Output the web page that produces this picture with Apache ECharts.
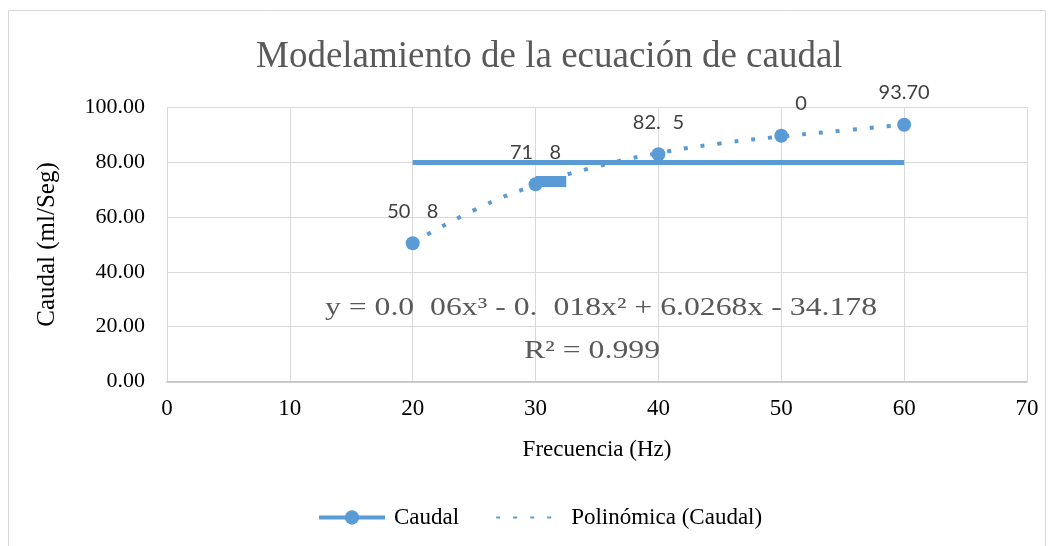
<!DOCTYPE html>
<html>
<head>
<meta charset="utf-8">
<script src="https://cdn.jsdelivr.net/npm/echarts@6/dist/echarts.min.js"></script>
<style>
  html, body { margin: 0; padding: 0; background: #ffffff; }
  #chart { width: 1053px; height: 546px; }
</style>
</head>
<body>
<div id="chart"></div>
<script>
// Measured flow vs. pump frequency
const frecuencia = [20, 30, 40, 50, 60];
const caudal = [50.48, 71.98, 82.95, 89.70, 93.70];

// Third-order polynomial trend of the flow, sampled every 5 Hz
const trendX = [20, 25, 30, 35, 40, 45, 50, 55, 60];
const trendY = [50.55, 62.56, 71.70, 78.48, 83.37, 86.85, 89.42, 91.57, 93.77];

// Stray strokes of the "Caudal" series
const flatStrokeX = [20, 60];
const flatStrokeY = 80.0;
const stubStrokeX = [30, 32.5];
const stubStrokeY = 73.0;

// Axis ticks
const xTicks = { min: 0, max: 70, step: 10 };
const yTicks = { min: 0, max: 100, step: 20 };

// Characters of each value label that are blanked out
const blankedChars = [[2, 3], [2, 3], [3], [0, 1, 2, 3], []];

const BLUE = '#5b9bd5';
const SERIF = '"Liberation Serif", "Times New Roman", serif';
const LABEL_FONT = 'Lato, "Open Sans", sans-serif';

function maskedLabel(text, hidden) {
  let out = '';
  for (let i = 0; i < text.length; i++) {
    out += hidden.indexOf(i) >= 0 ? '{h|' + text[i] + '}' : '{v|' + text[i] + '}';
  }
  return out;
}

const chart = echarts.init(document.getElementById('chart'));

chart.setOption({
  backgroundColor: '#ffffff',
  animation: false,
  title: {
    text: 'Modelamiento de la ecuación de caudal',
    left: 256,
    top: 39,
    padding: 0,
    textStyle: { fontFamily: SERIF, fontSize: 37, fontWeight: 'normal', color: '#595959' }
  },
  grid: { left: 167, right: 26, top: 107.5, bottom: 164.5, containLabel: false },
  legend: {
    left: 317,
    top: 506,
    padding: 0,
    itemWidth: 66,
    itemHeight: 18,
    itemGap: 36,
    textStyle: { fontFamily: SERIF, fontSize: 23, color: '#000000', padding: [0, 0, 0, 4] },
    data: [
      { name: 'Caudal', lineStyle: { opacity: 1, width: 4, color: BLUE, type: 'solid' } },
      { name: 'Polinómica (Caudal)', itemStyle: { opacity: 0 } }
    ]
  },
  xAxis: {
    type: 'value',
    min: xTicks.min,
    max: xTicks.max,
    interval: xTicks.step,
    name: 'Frecuencia (Hz)',
    nameLocation: 'middle',
    nameGap: 57,
    nameTextStyle: { fontFamily: SERIF, fontSize: 23, color: '#000000' },
    axisLine: { show: true, lineStyle: { color: '#bfbfbf', width: 1.5 } },
    axisTick: { show: false },
    axisLabel: { fontFamily: SERIF, fontSize: 23, color: '#000000', margin: 16 },
    splitLine: { show: true, lineStyle: { color: '#d9d9d9', width: 1 } }
  },
  yAxis: {
    type: 'value',
    min: yTicks.min,
    max: yTicks.max,
    interval: yTicks.step,
    name: 'Caudal (ml/Seg)',
    nameLocation: 'middle',
    nameGap: 107,
    nameTextStyle: { fontFamily: SERIF, fontSize: 25, color: '#000000' },
    axisLine: { show: false },
    axisTick: { show: false },
    axisLabel: {
      fontFamily: SERIF, fontSize: 22, color: '#000000', margin: 22,
      formatter: v => v.toFixed(2)
    },
    splitLine: { show: true, lineStyle: { color: '#d9d9d9', width: 1 } }
  },
  series: [
    {
      name: 'Polinómica (Caudal)',
      type: 'line',
      smooth: true,
      showSymbol: false,
      symbol: 'none',
      data: trendX.map((x, i) => [x, trendY[i]]),
      lineStyle: { color: BLUE, width: 4, type: [4, 13], cap: 'butt' },
      itemStyle: { color: BLUE },
      z: 2
    },
    {
      name: 'Caudal',
      type: 'line',
      symbol: 'circle',
      symbolSize: 14,
      data: frecuencia.map((x, i) => [x, caudal[i]]),
      itemStyle: { color: BLUE },
      lineStyle: { color: BLUE, width: 4, opacity: 0 },
      label: {
        show: true,
        position: 'top',
        distance: 15,
        formatter: p => maskedLabel(caudal[p.dataIndex].toFixed(2), blankedChars[p.dataIndex]),
        rich: {
          v: { fontFamily: LABEL_FONT, fontSize: 20, color: '#404040' },
          h: { fontFamily: LABEL_FONT, fontSize: 20, color: 'rgba(0,0,0,0)' }
        }
      },
      markLine: {
        silent: true,
        symbol: ['none', 'none'],
        label: { show: false },
        animation: false,
        data: [
          [
            { coord: [flatStrokeX[0], flatStrokeY], lineStyle: { color: BLUE, width: 5, type: 'solid' } },
            { coord: [flatStrokeX[1], flatStrokeY] }
          ],
          [
            { coord: [stubStrokeX[0], stubStrokeY], lineStyle: { color: BLUE, width: 11, type: 'solid' } },
            { coord: [stubStrokeX[1], stubStrokeY] }
          ]
        ]
      },
      z: 3
    }
  ],
  graphic: [
    {
      type: 'rect',
      silent: true,
      shape: { x: 8.5, y: 10.5, width: 1037, height: 560 },
      style: { fill: 'none', stroke: '#d9d9d9', lineWidth: 1 }
    },
    {
      type: 'text',
      silent: true,
      x: 601, y: 308, scaleX: 1.27,
      style: {
        text: '{a|y = 0.0}{h|0}{a|06x³ - 0.}{h|1}{a|018x² + 6.0268x - 34.178}',
        textAlign: 'center', textVerticalAlign: 'middle',
        rich: {
          a: { font: '25px ' + SERIF, fill: '#595959' },
          h: { font: '25px ' + SERIF, fill: 'rgba(0,0,0,0)' }
        }
      },
      z: 10
    },
    {
      type: 'text',
      silent: true,
      x: 600, y: 351, scaleX: 1.27,
      style: {
        text: '{a|R² = 0.999}{h|7}',
        textAlign: 'center', textVerticalAlign: 'middle',
        rich: {
          a: { font: '25px ' + SERIF, fill: '#595959' },
          h: { font: '25px ' + SERIF, fill: 'rgba(0,0,0,0)' }
        }
      },
      z: 10
    }
  ]
});
</script>
</body>
</html>
